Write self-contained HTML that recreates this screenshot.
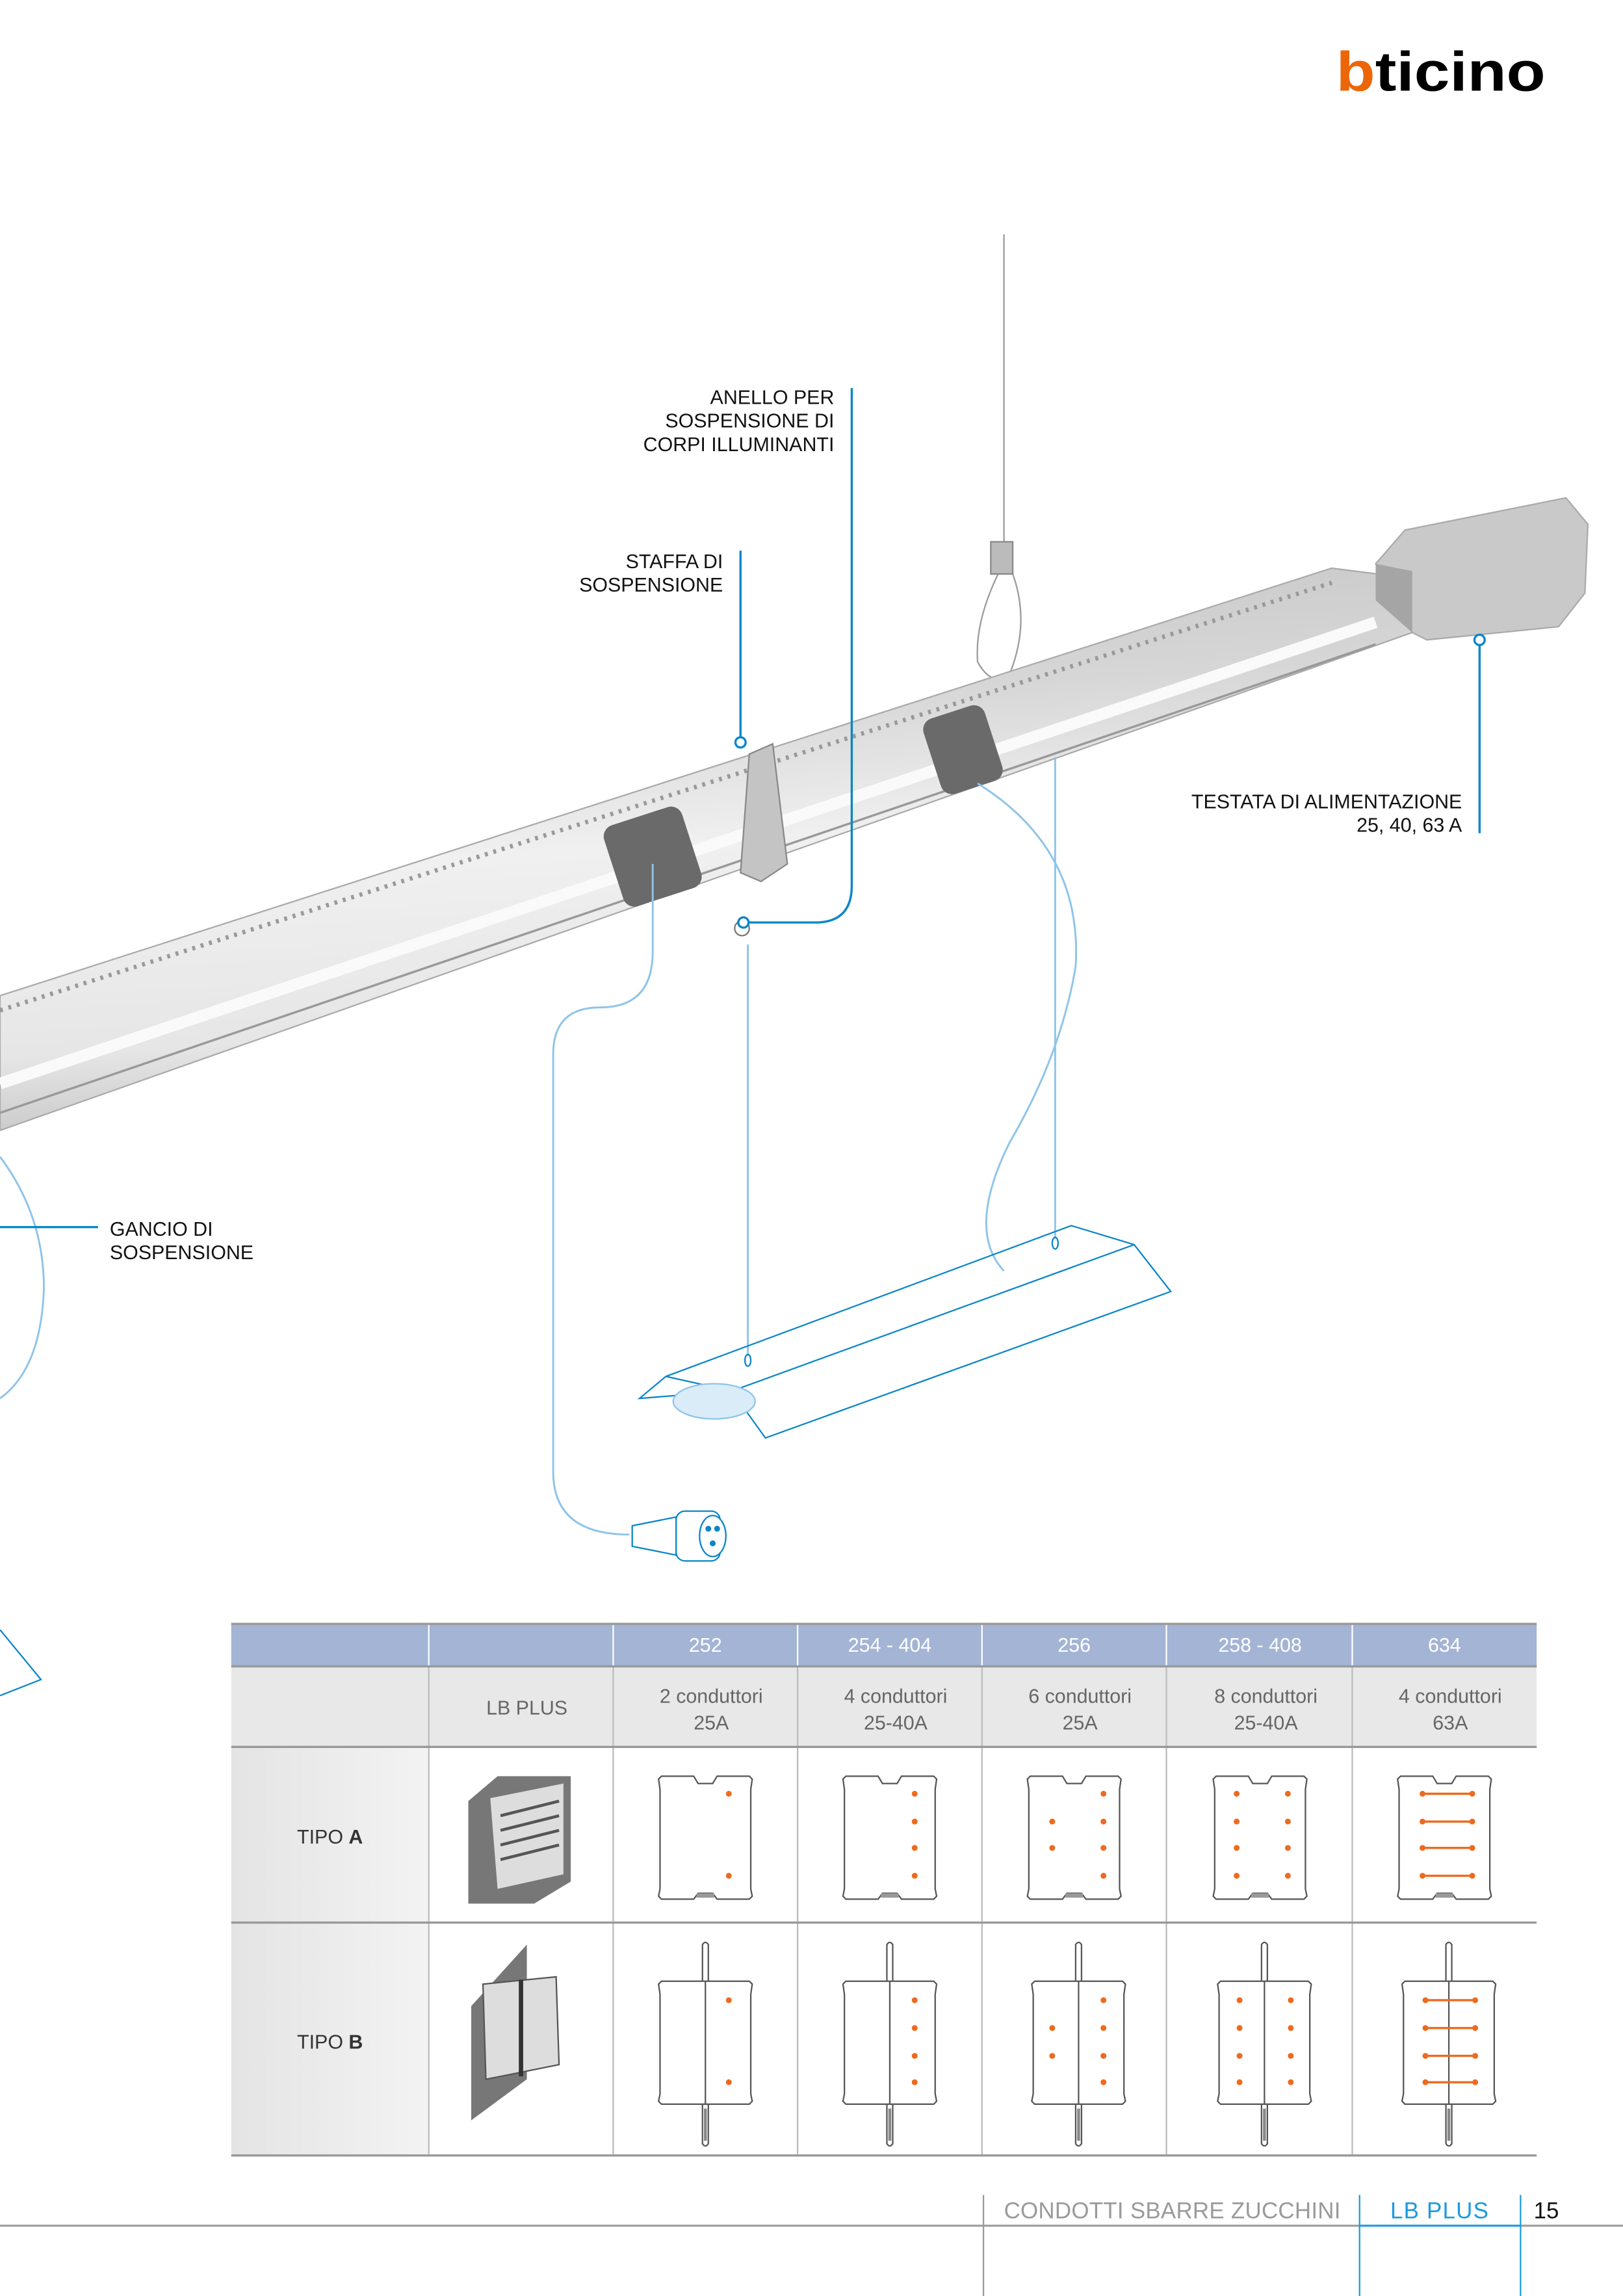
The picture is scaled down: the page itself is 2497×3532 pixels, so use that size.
<!DOCTYPE html>
<html><head><meta charset="utf-8"><style>
html,body{margin:0;padding:0;background:#fff}
svg{display:block}
text{font-family:"Liberation Sans",sans-serif}
</style></head><body>
<svg width="2497" height="3532" viewBox="0 0 1109 1568" preserveAspectRatio="none" xmlns="http://www.w3.org/2000/svg">
<defs>
<linearGradient id="bar" x1="0" y1="0" x2="0.15" y2="1">
<stop offset="0" stop-color="#c4c4c4"/><stop offset="0.3" stop-color="#d6d6d6"/><stop offset="0.55" stop-color="#f0f0f0"/><stop offset="0.85" stop-color="#e6e6e6"/><stop offset="1" stop-color="#c8c8c8"/>
</linearGradient>
<linearGradient id="col1" x1="0" y1="0" x2="1" y2="0">
<stop offset="0" stop-color="#e4e4e4"/><stop offset="1" stop-color="#f3f3f3"/>
</linearGradient>
<g id="boxA" fill="none" stroke="#555" stroke-width="1">
<path d="M-32,1215 L-30,1213 L-8,1213 L-5,1218 L5,1218 L8,1213 L30,1213 L32,1215 L31,1222 L31,1290 L32,1295 L30,1297 L8,1297 L5,1293 L-5,1293 L-8,1297 L-30,1297 L-32,1295 L-31,1290 L-31,1222 Z"/>
<rect x="-6" y="1293" width="12" height="3" fill="#999" stroke="none"/>
</g>
<g id="boxB" fill="none" stroke="#555" stroke-width="1">
<path d="M-32,1355 L-30,1353 L30,1353 L32,1355 L31,1362 L31,1430 L32,1435 L30,1437 L-30,1437 L-32,1435 L-31,1430 L-31,1362 Z"/>
<path d="M-2,1353 L-2,1328 Q0,1325 2,1328 L2,1353 M-2,1437 L-2,1464 Q0,1467 2,1464 L2,1437"/>
<line x1="0" y1="1353" x2="0" y2="1437"/>
<rect x="-1" y="1440" width="2" height="22" fill="#888" stroke="none"/>
</g>
</defs>

<text x="913" y="62" font-size="38" font-weight="bold" textLength="143" lengthAdjust="spacingAndGlyphs"><tspan fill="#ec6608">b</tspan><tspan fill="#000">ticino</tspan></text>

<g fill="none" stroke="#9a9a9a" stroke-width="1">
<line x1="686" y1="160" x2="686" y2="370"/>
<path d="M682,392 Q666,425 668,452 Q678,470 690,460 Q704,425 692,392"/>
<rect x="677" y="370" width="15" height="22" fill="#bbb" stroke="#888"/>
</g>

<polygon points="0,680 910,388 965,395 965,432 0,772" fill="url(#bar)" stroke="#aaa" stroke-width="1"/>
<polyline points="0,690 910,398" fill="none" stroke="#999" stroke-width="3" stroke-dasharray="2 4"/>
<polyline points="0,740 940,425" fill="none" stroke="#fafafa" stroke-width="8"/>
<polyline points="0,760 940,440" fill="none" stroke="#999" stroke-width="1.5"/>
<rect x="418" y="556" width="56" height="58" rx="8" fill="#6a6a6a" transform="rotate(-18 446 585)"/>
<rect x="636" y="485" width="44" height="54" rx="8" fill="#6a6a6a" transform="rotate(-18 658 512)"/>
<polygon points="512,515 528,508 538,590 520,602 506,596" fill="#c4c4c4" stroke="#888"/>
<circle cx="507" cy="634" r="5" fill="none" stroke="#777"/>
<polygon points="940,385 960,362 1070,340 1085,358 1083,405 1065,428 975,437 965,432" fill="#c9c9c9" stroke="#aaa"/>
<polygon points="940,385 965,390 965,432 940,410" fill="#a5a5a5"/>

<g fill="none" stroke="#8fc4e8" stroke-width="1.3">
<path d="M446,590 L446,650 Q446,688 410,688 Q378,688 378,720 L378,1005 Q378,1048 430,1048"/>
<path d="M668,535 Q740,580 735,660 Q725,720 690,780 Q660,840 686,868"/>
<path d="M0,790 Q30,830 30,880 Q28,935 0,955"/>
<line x1="511" y1="645" x2="511" y2="926"/>
<line x1="721" y1="517" x2="721" y2="846"/>
</g>
<g fill="#fff" stroke="#0a86c8" stroke-width="1">
<polygon points="432,1042 462,1036 462,1062 432,1056"/>
<rect x="462" y="1032" width="30" height="34" rx="6"/>
<ellipse cx="487" cy="1049" rx="9" ry="14"/>
<circle cx="484" cy="1044" r="1.5" fill="#0a86c8"/><circle cx="490" cy="1044" r="1.5" fill="#0a86c8"/><circle cx="487" cy="1054" r="1.5" fill="#0a86c8"/>
</g>
<g fill="none" stroke="#0a86c8" stroke-width="1">
<polygon points="437,955 455,940 732,837 775,850 800,882 523,982 500,950"/>
<line x1="455" y1="940" x2="500" y2="950"/>
<line x1="500" y1="950" x2="775" y2="850"/>
<ellipse cx="488" cy="957" rx="28" ry="12" fill="#d9ecf8" stroke="#8fc4e8"/>
<ellipse cx="511" cy="929" rx="2" ry="4"/><ellipse cx="721" cy="849" rx="2" ry="4"/>
<polyline points="0,1113 28,1147 0,1158"/>
</g>

<g fill="none" stroke="#0a86c8" stroke-width="1.5">
<path d="M582,265 L582,605 Q582,630 557,630 L512,630"/>
<circle cx="508" cy="630" r="3.5" fill="#fff"/>
<line x1="506" y1="376" x2="506" y2="503"/>
<circle cx="506" cy="507" r="3.5" fill="#fff"/>
<line x1="1011" y1="441" x2="1011" y2="569"/>
<circle cx="1011" cy="437" r="3.5" fill="#fff"/>
<line x1="0" y1="838" x2="67" y2="838"/>
</g>
<g font-size="13.5" fill="#111">
<text x="570" y="276" text-anchor="end">ANELLO PER</text>
<text x="570" y="292" text-anchor="end">SOSPENSIONE DI</text>
<text x="570" y="308" text-anchor="end">CORPI ILLUMINANTI</text>
<text x="494" y="388" text-anchor="end">STAFFA DI</text>
<text x="494" y="404" text-anchor="end">SOSPENSIONE</text>
<text x="999" y="552" text-anchor="end">TESTATA DI ALIMENTAZIONE</text>
<text x="999" y="568" text-anchor="end">25, 40, 63 A</text>
<text x="75" y="844">GANCIO DI</text>
<text x="75" y="860">SOSPENSIONE</text>
</g>

<rect x="158" y="1109" width="892" height="29" fill="#a3b4d4"/>
<rect x="158" y="1138" width="892" height="55" fill="#e8e8e8"/>
<rect x="158" y="1193" width="135" height="279" fill="url(#col1)"/>
<g stroke="#fff" stroke-width="1"><line x1="293" y1="1109" x2="293" y2="1138"/><line x1="419" y1="1109" x2="419" y2="1138"/><line x1="545" y1="1109" x2="545" y2="1138"/><line x1="671" y1="1109" x2="671" y2="1138"/><line x1="797" y1="1109" x2="797" y2="1138"/><line x1="924" y1="1109" x2="924" y2="1138"/></g>
<g stroke="#bbb" stroke-width="1"><line x1="293" y1="1138" x2="293" y2="1472"/><line x1="419" y1="1138" x2="419" y2="1472"/><line x1="545" y1="1138" x2="545" y2="1472"/><line x1="671" y1="1138" x2="671" y2="1472"/><line x1="797" y1="1138" x2="797" y2="1472"/><line x1="924" y1="1138" x2="924" y2="1472"/></g>
<g stroke="#999" stroke-width="1.5"><line x1="158" y1="1109" x2="1050" y2="1109"/><line x1="158" y1="1138" x2="1050" y2="1138"/><line x1="158" y1="1193" x2="1050" y2="1193"/><line x1="158" y1="1313" x2="1050" y2="1313"/><line x1="158" y1="1472" x2="1050" y2="1472"/></g>
<g font-size="13.5" fill="#fff" text-anchor="middle">
<text x="482" y="1128">252</text><text x="608" y="1128">254 - 404</text><text x="734" y="1128">256</text><text x="861" y="1128">258 - 408</text><text x="987" y="1128">634</text>
</g>
<g font-size="13.5" fill="#666" text-anchor="middle">
<text x="360" y="1171">LB PLUS</text>
<text x="486" y="1163">2 conduttori</text><text x="486" y="1181">25A</text>
<text x="612" y="1163">4 conduttori</text><text x="612" y="1181">25-40A</text>
<text x="738" y="1163">6 conduttori</text><text x="738" y="1181">25A</text>
<text x="865" y="1163">8 conduttori</text><text x="865" y="1181">25-40A</text>
<text x="991" y="1163">4 conduttori</text><text x="991" y="1181">63A</text>
</g>
<g font-size="13.5" fill="#333">
<text x="203" y="1259">TIPO <tspan font-weight="bold">A</tspan></text>
<text x="203" y="1399">TIPO <tspan font-weight="bold">B</tspan></text>
</g>
<polygon points="320,1230 340,1213 390,1213 390,1285 365,1300 320,1300" fill="#777"/>
<polygon points="335,1228 385,1218 385,1280 340,1290" fill="#ddd"/>
<g stroke="#555" stroke-width="2"><line x1="342" y1="1240" x2="382" y2="1230"/><line x1="342" y1="1250" x2="382" y2="1240"/><line x1="342" y1="1260" x2="382" y2="1250"/><line x1="342" y1="1270" x2="382" y2="1260"/></g>
<polygon points="322,1370 360,1328 360,1420 322,1448" fill="#777"/>
<polygon points="330,1355 380,1350 382,1410 332,1420" fill="#ddd" stroke="#555"/>
<line x1="356" y1="1352" x2="356" y2="1418" stroke="#333" stroke-width="3"/>

<use href="#boxA" transform="translate(482,0)"/><use href="#boxA" transform="translate(608,0)"/><use href="#boxA" transform="translate(734,0)"/><use href="#boxA" transform="translate(861,0)"/><use href="#boxA" transform="translate(987,0)"/>
<use href="#boxB" transform="translate(482,0)"/><use href="#boxB" transform="translate(608,0)"/><use href="#boxB" transform="translate(737,0)"/><use href="#boxB" transform="translate(864,0)"/><use href="#boxB" transform="translate(990,0)"/>
<g fill="#ee6a1e">
<circle cx="498" cy="1225" r="2"/><circle cx="498" cy="1281" r="2"/>
<circle cx="625" cy="1225" r="2"/><circle cx="625" cy="1244" r="2"/><circle cx="625" cy="1262" r="2"/><circle cx="625" cy="1281" r="2"/>
<circle cx="754" cy="1225" r="2"/><circle cx="754" cy="1244" r="2"/><circle cx="754" cy="1262" r="2"/><circle cx="754" cy="1281" r="2"/><circle cx="719" cy="1244" r="2"/><circle cx="719" cy="1262" r="2"/>
<circle cx="845" cy="1225" r="2"/><circle cx="845" cy="1244" r="2"/><circle cx="845" cy="1262" r="2"/><circle cx="845" cy="1281" r="2"/><circle cx="880" cy="1225" r="2"/><circle cx="880" cy="1244" r="2"/><circle cx="880" cy="1262" r="2"/><circle cx="880" cy="1281" r="2"/>
<circle cx="498" cy="1366" r="2"/><circle cx="498" cy="1422" r="2"/>
<circle cx="625" cy="1366" r="2"/><circle cx="625" cy="1385" r="2"/><circle cx="625" cy="1404" r="2"/><circle cx="625" cy="1422" r="2"/>
<circle cx="754" cy="1366" r="2"/><circle cx="754" cy="1385" r="2"/><circle cx="754" cy="1404" r="2"/><circle cx="754" cy="1422" r="2"/><circle cx="719" cy="1385" r="2"/><circle cx="719" cy="1404" r="2"/>
<circle cx="847" cy="1366" r="2"/><circle cx="847" cy="1385" r="2"/><circle cx="847" cy="1404" r="2"/><circle cx="847" cy="1422" r="2"/><circle cx="882" cy="1366" r="2"/><circle cx="882" cy="1385" r="2"/><circle cx="882" cy="1404" r="2"/><circle cx="882" cy="1422" r="2"/>
</g>
<g stroke="#ee6a1e" stroke-width="1.5">
<line x1="972" y1="1225" x2="1006" y2="1225"/><line x1="972" y1="1244" x2="1006" y2="1244"/><line x1="972" y1="1262" x2="1006" y2="1262"/><line x1="972" y1="1281" x2="1006" y2="1281"/>
<line x1="974" y1="1366" x2="1008" y2="1366"/><line x1="974" y1="1385" x2="1008" y2="1385"/><line x1="974" y1="1404" x2="1008" y2="1404"/><line x1="974" y1="1422" x2="1008" y2="1422"/>
</g>
<g fill="#ee6a1e"><circle cx="972" cy="1225" r="2"/><circle cx="1006" cy="1225" r="2"/><circle cx="972" cy="1244" r="2"/><circle cx="1006" cy="1244" r="2"/><circle cx="972" cy="1262" r="2"/><circle cx="1006" cy="1262" r="2"/><circle cx="972" cy="1281" r="2"/><circle cx="1006" cy="1281" r="2"/>
<circle cx="974" cy="1366" r="2"/><circle cx="1008" cy="1366" r="2"/><circle cx="974" cy="1385" r="2"/><circle cx="1008" cy="1385" r="2"/><circle cx="974" cy="1404" r="2"/><circle cx="1008" cy="1404" r="2"/><circle cx="974" cy="1422" r="2"/><circle cx="1008" cy="1422" r="2"/></g>

<line x1="0" y1="1520" x2="1109" y2="1520" stroke="#999" stroke-width="1.3"/>
<line x1="672" y1="1499" x2="672" y2="1568" stroke="#999" stroke-width="1"/>
<line x1="929" y1="1499" x2="929" y2="1568" stroke="#1a9ae0" stroke-width="1"/>
<line x1="1039" y1="1499" x2="1039" y2="1568" stroke="#1a9ae0" stroke-width="1"/>
<line x1="929" y1="1520" x2="1039" y2="1520" stroke="#1a9ae0" stroke-width="1.3"/>
<text x="686" y="1515" font-size="15.5" fill="#9a9a9a" textLength="230">CONDOTTI SBARRE ZUCCHINI</text>
<text x="950" y="1515" font-size="15.5" fill="#1a9ae0" textLength="67">LB PLUS</text>
<text x="1048" y="1515" font-size="15.5" fill="#111">15</text>
</svg>
</body></html>
